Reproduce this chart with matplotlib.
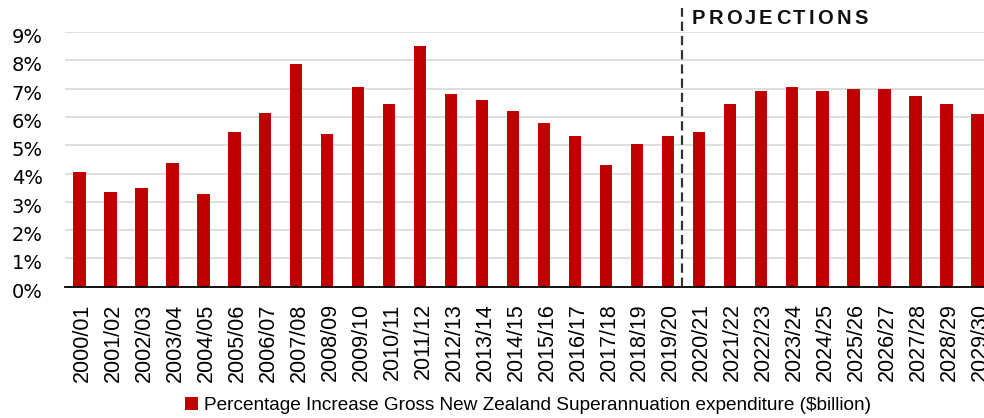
import matplotlib
matplotlib.use("Agg")
import matplotlib.pyplot as plt
import matplotlib.transforms as mtransforms
import numpy as np

# ---- data ----
years = ["2000/01", "2001/02", "2002/03", "2003/04", "2004/05", "2005/06",
         "2006/07", "2007/08", "2008/09", "2009/10", "2010/11", "2011/12",
         "2012/13", "2013/14", "2014/15", "2015/16", "2016/17", "2017/18",
         "2018/19", "2019/20", "2020/21", "2021/22", "2022/23", "2023/24",
         "2024/25", "2025/26", "2026/27", "2027/28", "2028/29", "2029/30"]
pct_increase = [4.04, 3.35, 3.47, 4.36, 3.29, 5.45, 6.15, 7.88, 5.39, 7.04,
                6.47, 8.52, 6.80, 6.60, 6.22, 5.77, 5.32, 4.30, 5.06, 5.32,
                5.45, 6.47, 6.91, 7.04, 6.91, 6.97, 6.97, 6.73, 6.47, 6.09]
yticks = [0, 1, 2, 3, 4, 5, 6, 7, 8, 9]
ytick_labels = [f"{v}%" for v in yticks]
series_label = "Percentage Increase Gross New Zealand Superannuation expenditure ($billion)"
projection_label = "PROJECTIONS"
projection_start = 19.45  # between 2019/20 and 2020/21

W, H = 984, 418
fig = plt.figure(figsize=(W / 100, H / 100), dpi=100)
ax = fig.add_axes([65 / W, (H - 286.7) / H, (W - 65) / W, (286.7 - 32) / H])

x = np.arange(len(years))
bars = ax.bar(x, pct_increase, width=0.4, color="#C00000", label=series_label, zorder=3)

ax.set_xlim(-0.468, 29.21)
ax.set_ylim(0, 9)
ax.set_yticks(yticks)
ax.set_yticklabels(ytick_labels, fontsize=14, family="DejaVu Sans")
ax.set_xticks(x)
ax.set_xticklabels(years, rotation=90, fontsize=15.5, family="Liberation Sans",
                   va="top", ha="center")
ax.tick_params(axis="both", length=0)
ax.tick_params(axis="x", pad=12)
ax.tick_params(axis="y", pad=16)

for lab in ax.get_xticklabels():
    lab.set_transform(lab.get_transform() +
                      mtransforms.ScaledTranslation(3 / 100, 0, fig.dpi_scale_trans))
for lab in ax.get_yticklabels():
    lab.set_transform(lab.get_transform() +
                      mtransforms.ScaledTranslation(0, -3.5 / 100, fig.dpi_scale_trans))

ax.yaxis.grid(True, color="#D9D9D9", linewidth=1.2, zorder=0)
ax.set_axisbelow(True)
for s in ["top", "right", "left"]:
    ax.spines[s].set_visible(False)
ax.spines["bottom"].set_color("black")
ax.spines["bottom"].set_linewidth(1.3)
ax.spines["bottom"].set_zorder(4)

# projections divider
ax.plot([projection_start, projection_start], [0, 9.85], color="#333333",
        linewidth=1.6, linestyle=(0, (4.2, 2.2)), clip_on=False, zorder=5)

# letter-spaced PROJECTIONS label
renderer = fig.canvas.get_renderer()
x0_px, base_px, target_w = 691.7, H - 24.5, 175.6
chars = []
widths = []
for ch in projection_label:
    t = fig.text(0, base_px / H, ch, fontsize=14.5, fontweight="bold",
                 family="Liberation Sans", va="baseline", ha="left", color="#111111")
    bb = t.get_window_extent(renderer)
    chars.append(t)
    widths.append(bb.width)
gap = (target_w - sum(widths)) / (len(chars) - 1)
cur = x0_px
for t, w in zip(chars, widths):
    t.set_x(cur / W)
    cur += w + gap

# legend
fig.legend(handles=[bars], labels=[series_label], loc="upper left",
           bbox_to_anchor=(185 / W, (H - 396.5) / H), frameon=False,
           borderpad=0, borderaxespad=0, handlelength=0.68, handleheight=0.68,
           handletextpad=0.32, prop={"family": "Liberation Sans", "size": 13.7})

fig.savefig("out.png", dpi=100)
